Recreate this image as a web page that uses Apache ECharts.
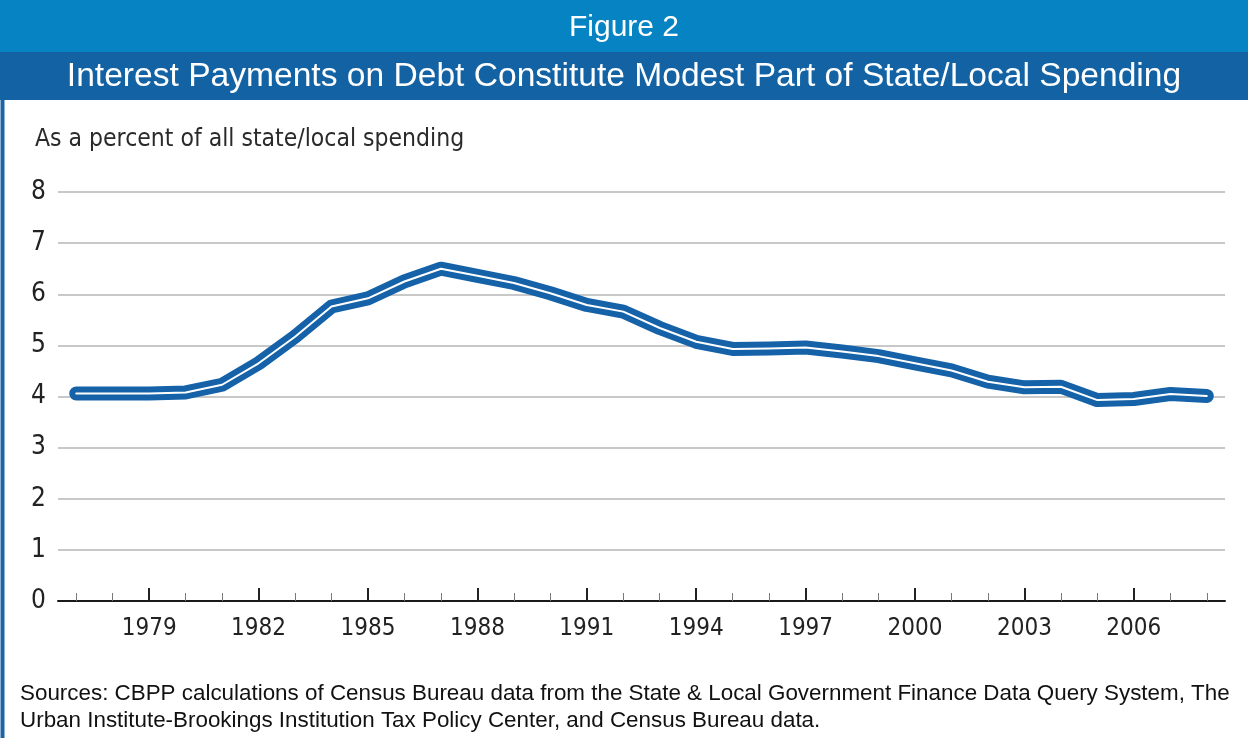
<!DOCTYPE html>
<html><head><meta charset="utf-8">
<script src="https://cdn.jsdelivr.net/npm/echarts@6/dist/echarts.min.js"></script>
<style>html,body{margin:0;padding:0;background:#fff}#c{width:1248px;height:738px}</style>
</head><body><div id="c"></div>
<script>
const years = ['1977','1978','1979','1980','1981','1982','1983','1984','1985','1986','1987','1988','1989','1990','1991','1992','1993','1994','1995','1996','1997','1998','1999','2000','2001','2002','2003','2004','2005','2006','2007','2008'];
const interestShare = [4.06,4.06,4.06,4.08,4.23,4.65,5.17,5.76,5.92,6.25,6.50,6.36,6.22,6.02,5.79,5.66,5.34,5.07,4.93,4.94,4.96,4.88,4.79,4.65,4.51,4.29,4.18,4.19,3.93,3.95,4.05,4.01];
const yTicks = [0,1,2,3,4,5,6,7,8];
const figureLabel = 'Figure 2';
const titleText = 'Interest Payments on Debt Constitute Modest Part of State/Local Spending';
const unitText = 'As a percent of all state/local spending';
const sourceLines = ['Sources: CBPP calculations of Census Bureau data from the State & Local Government Finance Data Query System, The','Urban Institute-Brookings Institution Tax Policy Center, and Census Bureau data.'];

const narrow = '"Liberation Sans Narrow","DejaVu Sans Condensed","Arial Narrow",sans-serif';
const chart = echarts.init(document.getElementById('c'), null, {renderer:'canvas'});
const majorIdx = i => (i - 2) % 3 === 0;
chart.setOption({
  animation:false,
  backgroundColor:'#fff',
  grid:{left:58,right:23,top:192,bottom:137},
  xAxis:[{
    type:'category',data:years,boundaryGap:true,
    axisLine:{show:true,lineStyle:{color:'#1a1a1a',width:2}},
    axisTick:{show:true,inside:true,length:8,interval:0,alignWithLabel:true,lineStyle:{color:'#777',width:1}},
    axisLabel:{interval:(i)=>majorIdx(i),margin:16,color:'#222',fontSize:24,fontFamily:narrow},
    splitLine:{show:false}
  },{
    type:'category',data:years,boundaryGap:true,position:'bottom',
    axisLine:{show:false},
    axisTick:{show:true,inside:true,length:13,interval:(i)=>majorIdx(i),alignWithLabel:true,lineStyle:{color:'#222',width:2}},
    axisLabel:{show:false},splitLine:{show:false}
  }],
  yAxis:{
    type:'value',min:0,max:8,interval:1,
    axisLine:{show:false},axisTick:{show:false},
    axisLabel:{margin:12,color:'#222',fontSize:26,fontFamily:narrow,formatter:v=>yTicks.includes(v)?String(v):''},
    splitLine:{show:true,lineStyle:{color:'#c8c8c8',width:2}}
  },
  series:[
    {type:'line',data:interestShare,symbol:'none',xAxisIndex:0,z:3,
     lineStyle:{color:'#1562a8',width:14,cap:'round',join:'round'}},
    {type:'line',data:interestShare,symbol:'none',xAxisIndex:0,z:4,
     lineStyle:{color:'#ffffff',width:2,cap:'round',join:'round'}}
  ],
  graphic:[
    {type:'rect',left:0,top:0,shape:{width:1248,height:738},style:{fill:'none',stroke:'#1a64a8',lineWidth:4},z:-1,silent:true},
    {type:'rect',left:0,top:0,shape:{width:1248,height:52},style:{fill:'#0583c2'},z:10},
    {type:'rect',left:0,top:52,shape:{width:1248,height:48},style:{fill:'#1262a4'},z:10},
    {type:'text',left:'center',top:13,style:{text:figureLabel,fill:'#fff',font:'30px "Liberation Sans",Arial,sans-serif'},z:11},
    {type:'text',left:'center',top:60,style:{text:titleText,fill:'#fff',font:'33.6px "Liberation Sans",Arial,sans-serif'},z:11},
    {type:'text',left:35,top:127,style:{text:unitText,fill:'#2a2a2a',font:'24.5px '+narrow},z:11},
    {type:'text',left:20,top:680,style:{text:sourceLines.join('\n'),fill:'#111',font:'22.4px "Liberation Sans",Arial,sans-serif',lineHeight:27},z:11}
  ]
});
</script></body></html>
